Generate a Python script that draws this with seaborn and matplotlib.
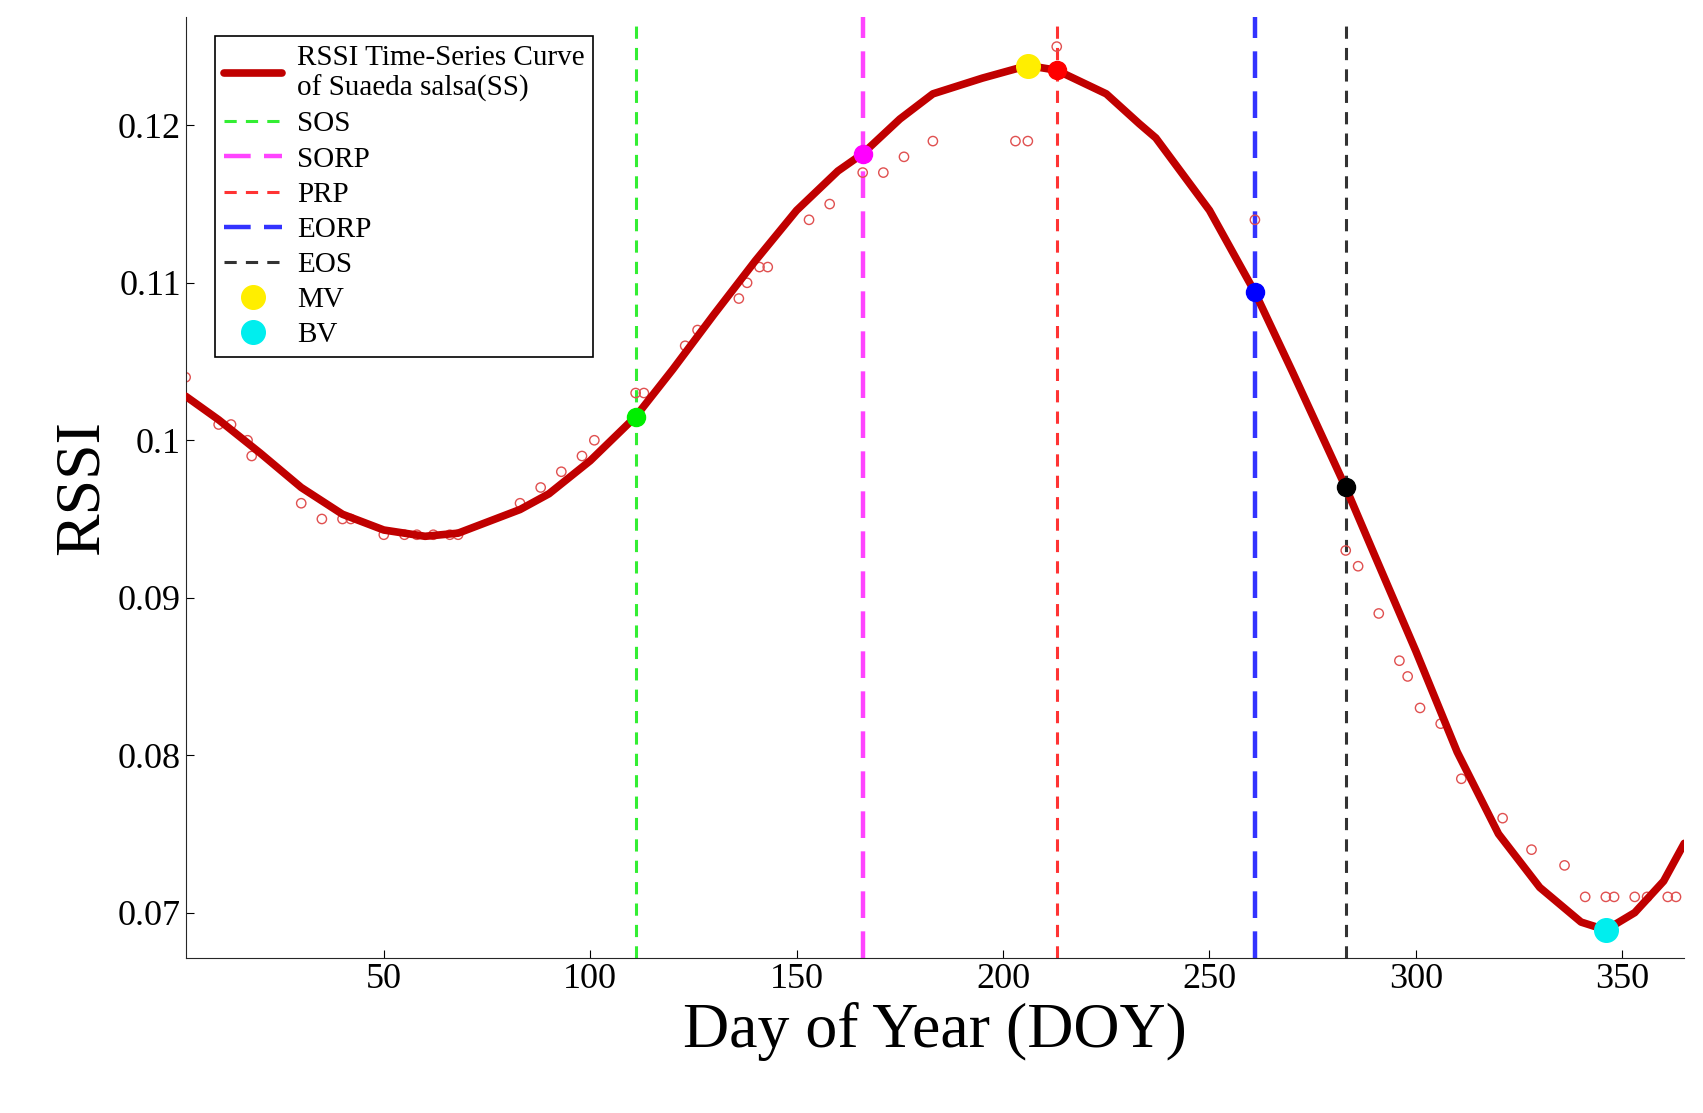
import matplotlib
matplotlib.use("Agg")
import matplotlib.pyplot as plt
import seaborn as sns
import pandas as pd

sns.set_style("ticks")
plt.rcParams['font.family'] = ['Liberation Serif', 'DejaVu Serif']
plt.rcParams['text.color'] = 'black'
plt.rcParams['axes.labelcolor'] = 'black'
plt.rcParams['xtick.color'] = 'black'
plt.rcParams['ytick.color'] = 'black'

# fitted RSSI curve
curve_doy = [2, 10, 20, 30, 40, 50, 60, 68, 83, 90, 100, 111, 120, 130, 140, 150, 160, 166,
             175, 183, 195, 206, 213, 225, 233, 237, 250, 261, 270, 283, 290, 300, 310, 320,
             330, 340, 346, 353, 360, 365]
curve_rssi = [0.1028, 0.1013, 0.0992, 0.0970, 0.0953, 0.0943, 0.0939, 0.0941, 0.0956, 0.0966,
              0.0987, 0.1015, 0.1045, 0.1080, 0.1114, 0.1146, 0.1171, 0.1182, 0.1204, 0.1220,
              0.1230, 0.1238, 0.1235, 0.1220, 0.1201, 0.1192, 0.1146, 0.1094, 0.1044, 0.0970,
              0.0927, 0.0866, 0.0802, 0.0750, 0.0716, 0.0694, 0.0689, 0.0700, 0.0720, 0.0744]

# observed RSSI
obs_doy = [2, 10, 13, 17, 18, 30, 35, 40, 42, 50, 55, 58, 62, 66, 68, 83, 88, 93, 98, 101,
           111, 113, 123, 126, 136, 138, 141, 143, 153, 158, 166, 171, 176, 183, 203, 206,
           213, 261, 283, 286, 291, 296, 298, 301, 306, 311, 321, 328, 336, 341, 346, 348,
           353, 356, 361, 363]
obs_rssi = [0.104, 0.101, 0.101, 0.100, 0.099, 0.096, 0.095, 0.095, 0.095, 0.094, 0.094, 0.094,
            0.094, 0.094, 0.094, 0.096, 0.097, 0.098, 0.099, 0.100, 0.103, 0.103, 0.106, 0.107,
            0.109, 0.110, 0.111, 0.111, 0.114, 0.115, 0.117, 0.117, 0.118, 0.119, 0.119, 0.119,
            0.125, 0.114, 0.093, 0.092, 0.089, 0.086, 0.085, 0.083, 0.082, 0.0785, 0.076, 0.074,
            0.073, 0.071, 0.071, 0.071, 0.071, 0.071, 0.071, 0.071]

# phenology metrics
phen_names = ['SOS', 'SORP', 'PRP', 'EORP', 'EOS']
phen_doy = [111, 166, 213, 261, 283]
phen_rssi = [0.1015, 0.1182, 0.1235, 0.1094, 0.0970]
phen_colors = ['#33ee33', '#ff44ff', '#ff3333', '#3333ff', '#333333']
phen_marker_colors = ['#00ee00', '#ff00ff', '#ff0000', '#0000ff', '#000000']
phen_styles = [((0, (4, 3)), 2.2), ((0, (6, 3)), 3.2), ((0, (4, 3)), 2.2),
               ((0, (6, 3)), 3.2), ((0, (4, 3)), 2.2)]
mv = (206, 0.1238)
bv = (346, 0.0689)

fig, ax = plt.subplots(figsize=(17.03, 11.13), dpi=100)
fig.subplots_adjust(left=0.109, right=0.989, top=0.985, bottom=0.139)

for name, d, c, (ls, lw) in zip(phen_names, phen_doy, phen_colors, phen_styles):
    ax.axvline(d, color=c, linestyle=ls, linewidth=lw, label=name, zorder=1)

sns.scatterplot(x=obs_doy, y=obs_rssi, ax=ax, marker='o', s=45, facecolor='none',
                edgecolor='#e05050', linewidth=1.0, zorder=2)
sns.lineplot(x=curve_doy, y=curve_rssi, ax=ax, color='#c00000', linewidth=5.5,
             label='RSSI Time-Series Curve\nof Suaeda salsa(SS)', zorder=3)

for d, r, c in zip(phen_doy, phen_rssi, phen_marker_colors):
    ax.plot(d, r, 'o', color=c, markersize=13, zorder=4)
ax.plot(*mv, 'o', color='#ffee00', markersize=17, zorder=5, label='MV', linestyle='none')
ax.plot(*bv, 'o', color='#00eeee', markersize=17, zorder=5, label='BV', linestyle='none')

h, l = ax.get_legend_handles_labels()
order = [l.index('RSSI Time-Series Curve\nof Suaeda salsa(SS)')] + \
        [l.index(n) for n in phen_names] + [l.index('MV'), l.index('BV')]
leg = ax.legend([h[i] for i in order], [l[i] for i in order], loc='upper left',
                bbox_to_anchor=(0.01, 0.995), fontsize=21, frameon=True, fancybox=False,
                edgecolor='black', handlelength=2.0, handletextpad=0.5,
                labelspacing=0.3, borderpad=0.3, framealpha=1)
leg.get_frame().set_linewidth(1.2)

ax.set_xlim(2, 365)
ax.set_ylim(0.0671, 0.1269)
ax.set_xticks([50, 100, 150, 200, 250, 300, 350])
ax.set_yticks([0.07, 0.08, 0.09, 0.10, 0.11, 0.12])
ax.set_yticklabels(['0.07', '0.08', '0.09', '0.1', '0.11', '0.12'])
ax.tick_params(labelsize=26, direction='in', length=6)
ax.set_xlabel('Day of Year (DOY)', fontsize=46)
ax.set_ylabel('RSSI', fontsize=46)
sns.despine(ax=ax)

fig.savefig('out.png', dpi=100)
